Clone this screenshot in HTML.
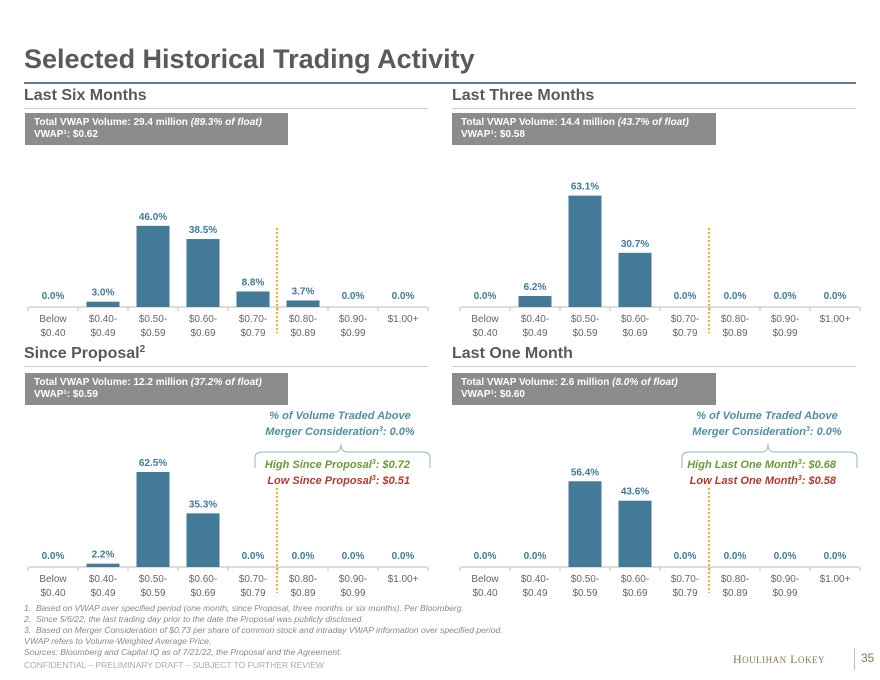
<!DOCTYPE html>
<html><head><meta charset="utf-8"><style>
body{margin:0;width:880px;height:680px;background:#fff;font-family:"Liberation Sans",sans-serif;position:relative;overflow:hidden}
.a{position:absolute}
sup{line-height:0;vertical-align:4px}
.title{left:24px;top:44px;font-size:27px;font-weight:bold;color:#5a5a5a}
.h{font-size:16px;font-weight:bold;color:#595959;line-height:18px}
.box{background:#8c8c8c;color:#fff;font-size:10px;font-weight:bold;padding:4px 9px;box-sizing:border-box;height:32px;line-height:12px}
.note{font-size:11px;font-weight:bold;font-style:italic;text-align:center;line-height:16px}
.fn{left:24px;font-size:8.6px;font-style:italic;color:#888;line-height:11px}
</style></head><body>
<div class="a title">Selected Historical Trading Activity</div>
<div class="a" style="left:24px;top:82px;width:832px;height:2px;background:#5f7f94"></div>

<div class="a h" style="left:24px;top:87px">Last Six Months</div>
<div class="a h" style="left:452px;top:87px">Last Three Months</div>
<div class="a h" style="left:24px;top:345px">Since Proposal<sup style="font-size:10px;vertical-align:6px">2</sup></div>
<div class="a h" style="left:452px;top:345px">Last One Month</div>
<div class="a" style="left:24px;top:108px;width:404px;height:1px;background:#ccc"></div>
<div class="a" style="left:452px;top:108px;width:404px;height:1px;background:#ccc"></div>
<div class="a" style="left:24px;top:366px;width:404px;height:1px;background:#ccc"></div>
<div class="a" style="left:452px;top:366px;width:404px;height:1px;background:#ccc"></div>

<div class="a box" style="left:25px;top:113px;width:263px">Total VWAP Volume: 29.4 million <i>(89.3% of float)</i><br>VWAP¹: $0.62</div>
<div class="a box" style="left:452px;top:113px;width:264px">Total VWAP Volume: 14.4 million <i>(43.7% of float)</i><br>VWAP¹: $0.58</div>
<div class="a box" style="left:25px;top:373px;width:263px">Total VWAP Volume: 12.2 million <i>(37.2% of float)</i><br>VWAP¹: $0.59</div>
<div class="a box" style="left:452px;top:373px;width:264px">Total VWAP Volume: 2.6 million <i>(8.0% of float)</i><br>VWAP¹: $0.60</div>

<div class="a note" style="left:240px;top:408px;width:200px;color:#4f8fa0">% of Volume Traded Above<br>Merger Consideration<sup style="font-size:7px">3</sup>: 0.0%</div>
<div class="a note" style="left:667px;top:408px;width:200px;color:#4f8fa0">% of Volume Traded Above<br>Merger Consideration<sup style="font-size:7px">3</sup>: 0.0%</div>
<div class="a note" style="left:230px;top:457px;width:180px;text-align:right;color:#6a9a3a">High Since Proposal<sup style="font-size:7px">3</sup>: $0.72</div>
<div class="a note" style="left:230px;top:473px;width:180px;text-align:right;color:#b03a2e">Low Since Proposal<sup style="font-size:7px">3</sup>: $0.51</div>
<div class="a note" style="left:656px;top:457px;width:180px;text-align:right;color:#6a9a3a">High Last One Month<sup style="font-size:7px">3</sup>: $0.68</div>
<div class="a note" style="left:656px;top:473px;width:180px;text-align:right;color:#b03a2e">Low Last One Month<sup style="font-size:7px">3</sup>: $0.58</div>

<svg class="a" style="left:0;top:0" width="880" height="680" id="svg">
<path d="M255 468 V458 Q255 452 262 452 H335 Q341 452 341 444 Q341 452 347 452 H423 Q430 452 430 458 V468" fill="none" stroke="#8fb8c4" stroke-width="1"/>
<path d="M682 468 V458 Q682 452 689 452 H762 Q768 452 768 444 Q768 452 774 452 H850 Q857 452 857 458 V468" fill="none" stroke="#8fb8c4" stroke-width="1"/>
</svg>

<div class="a fn" style="top:603px">1.&nbsp; Based on VWAP over specified period (one month, since Proposal, three months or six months). Per Bloomberg.</div>
<div class="a fn" style="top:614px">2.&nbsp; Since 5/6/22, the last trading day prior to the date the Proposal was publicly disclosed.</div>
<div class="a fn" style="top:625px">3.&nbsp; Based on Merger Consideration of $0.73 per share of common stock and intraday VWAP information over specified period.</div>
<div class="a fn" style="top:636px">VWAP refers to Volume-Weighted Average Price.</div>
<div class="a fn" style="top:647px">Sources: Bloomberg and Capital IQ as of 7/21/22, the Proposal and the Agreement.</div>
<div class="a" style="left:24px;top:660px;font-size:8.5px;color:#aaa">CONFIDENTIAL – PRELIMINARY DRAFT – SUBJECT TO FURTHER REVIEW</div>
<div class="a" style="left:733px;top:652px;font-family:'Liberation Serif',serif;font-size:12px;color:#8a7650;letter-spacing:0.5px">H<span style="font-size:9px">OULIHAN</span> L<span style="font-size:9px">OKEY</span></div>
<div class="a" style="left:854px;top:648px;width:1px;height:22px;background:#bbb"></div>
<div class="a" style="left:861px;top:651px;font-size:12px;color:#8a7650">35</div>

<script>
const categories=[["Below","$0.40"],["$0.40-","$0.49"],["$0.50-","$0.59"],["$0.60-","$0.69"],["$0.70-","$0.79"],["$0.80-","$0.89"],["$0.90-","$0.99"],["$1.00+",""]];
const sixMonths=[0.0,3.0,46.0,38.5,8.8,3.7,0.0,0.0];
const threeMonths=[0.0,6.2,63.1,30.7,0.0,0.0,0.0,0.0];
const sinceProposal=[0.0,2.2,62.5,35.3,0.0,0.0,0.0,0.0];
const oneMonth=[0.0,0.0,56.4,43.6,0.0,0.0,0.0,0.0];
const NS='http://www.w3.org/2000/svg';
const svg=document.getElementById('svg');
function mk(tag,attrs,txt){const e=document.createElementNS(NS,tag);for(const k in attrs)e.setAttribute(k,attrs[k]);if(txt!==undefined)e.textContent=txt;svg.appendChild(e);return e;}
function chart(name,vals,x0,axisY,scale){
  const step=50;
  const xc=i=>x0+i*step;
  const yv=v=>axisY-v*scale;
  let ax=mk('line',{x1:x0-24,x2:x0+7*step+24,y1:axisY,y2:axisY,stroke:'#bbb','stroke-width':1});
  
  
  for(let i=0;i<=8;i++){let t=mk('line',{x1:x0-25+i*step,x2:x0-25+i*step,y1:axisY,y2:axisY+4,stroke:'#bbb'});
    
    }
  vals.forEach((v,i)=>{
    if(v>0){let b=mk('rect',{x:xc(i)-16.5,y:yv(v),width:33,height:v*scale,fill:'#427a98'});
      
      }
    let ly=v>0?yv(v)-6:axisY-8;
    let l=mk('text',{x:xc(i),y:ly,'text-anchor':'middle','font-size':10,'font-weight':'bold',fill:'#3f7a9a','font-family':'Liberation Sans'},v.toFixed(1)+'%');
    
    
    categories[i].forEach((s,k)=>{let c=mk('text',{x:xc(i),y:axisY+15+k*14,'text-anchor':'middle','font-size':10,fill:'#666','font-family':'Liberation Sans'},s);
      
      });
  });
  let d=mk('line',{x1:x0+4.5*step-1,x2:x0+4.5*step-1,y1:axisY-79,y2:axisY+26,stroke:'#f0b400','stroke-width':2,'stroke-dasharray':'2,2'});
  
  
}
chart('six-months',sixMonths,53,307,1.765);
chart('three-months',threeMonths,485,307,1.765);
chart('since-proposal',sinceProposal,53,567,1.52);
chart('one-month',oneMonth,485,567,1.52);
</script>
</body></html>
